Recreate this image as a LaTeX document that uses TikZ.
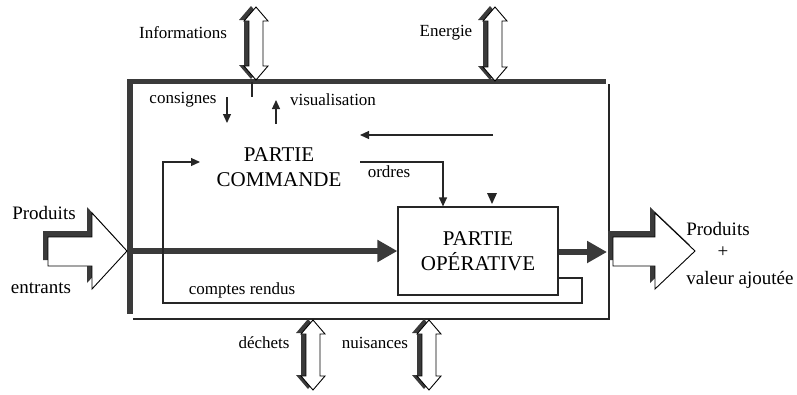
\documentclass[tikz,border=0pt]{standalone}
\usepackage{fontspec}
\setmainfont{Liberation Serif}
\usetikzlibrary{arrows.meta}
\definecolor{framegray}{HTML}{3A3A3A}
\tikzset{
  txt/.style={font=\fontsize{17}{19}\selectfont, inner sep=0pt},
  bigtxt/.style={font=\fontsize{19}{21}\selectfont, inner sep=0pt, align=center},
  parttxt/.style={font=\fontsize{21}{25}\selectfont, inner sep=0pt, align=center},
  wire/.style={line width=1.2pt, draw=black!85},
  signal/.style={wire, -{Triangle[length=9pt,width=8pt]}},
  flow/.style={line width=6pt, draw=framegray, -{Triangle[length=20pt,width=21pt]}},
  arrowshadow/.style={fill=framegray},
  arrowface/.style={fill=white, draw=black, line width=0.9pt},
}
% vertical double block arrow: centre x, top y, bottom y
\newcommand\dblarrow[3]{%
  \foreach \sx/\sy/\sty in {-5/-1/arrowshadow, 0/0/arrowface}{
    \path[\sty, shift={(\sx,\sy)}] (#1,#2) -- (#1+12,#2+14) -- (#1+7,#2+14)
      -- (#1+7,#3-14) -- (#1+12,#3-14) -- (#1,#3) -- (#1-12,#3-14)
      -- (#1-7,#3-14) -- (#1-7,#2+14) -- (#1-12,#2+14) -- cycle;
  }%
}
% horizontal block arrow on the product line: shaft start, head base, tip
\newcommand\blockarrow[3]{%
  \foreach \sx/\sy/\sty in {-5/-6/arrowshadow, 0/0/arrowface}{
    \path[\sty, shift={(\sx,\sy)}] (#1,237) -- (#2,237) -- (#2,213)
      -- (#3,251) -- (#2,289) -- (#2,266) -- (#1,266) -- cycle;
  }%
}
\begin{document}
\begin{tikzpicture}[x=1pt,y=-1pt]
\useasboundingbox (0,0) rectangle (797,394);

% system frame with its heavy top and left edges
\fill[framegray] (127,79) rectangle (606,84);
\fill[framegray] (127,79) rectangle (133,314);
\draw[wire] (609,84) -- (609,319) -- (133,319);

% exchanges with the environment
\dblarrow{256}{7}{80}
\dblarrow{495}{7}{81}
\dblarrow{313}{320}{390}
\dblarrow{429}{320}{390}
\draw[wire] (252,82) -- (252,97);
\node[txt] (info) at (183,33) {Informations};
\node[txt] (energie) at (446,33) {Energie};
\node[txt] (dechets) at (264,343) {déchets};
\node[txt] (nuisances) at (375,343) {nuisances};

% incoming and outgoing products
\blockarrow{48}{92}{127}
\blockarrow{613}{655}{695}
\node[bigtxt] (prodin) at (44,213) {Produits};
\node[bigtxt] (entrants) at (41,288) {entrants};
\node[bigtxt] (prodout) at (718,229) {Produits};
\node[bigtxt] (plus) at (723,252) {+};
\node[bigtxt] (valeur) at (740,280) {valeur ajoutée};

% the two parts of the system
\node[parttxt] (PC) at (279,167) {PARTIE\\COMMANDE};
\node[draw=black!85, line width=1.2pt, minimum width=160pt, minimum height=88pt,
      parttxt] (PO) at (478,251) {PARTIE\\OPÉRATIVE};

% product flow through the operative part
\coordinate (flowin) at (133,251);
\coordinate (flowout) at (607,252);
\draw[flow] (flowin) -- (PO.west);
\draw[flow] (PO.east |- flowout) -- (flowout);

% operator dialogue
\coordinate (consA) at (227,97);
\coordinate (consB) at (227,123);
\coordinate (visA) at (276,124);
\coordinate (visB) at (276,100);
\draw[signal] (consA) -- (consB);
\draw[signal] (visA) -- (visB);
\node[txt] (consignes) at (183,100) {consignes};
\node[txt] (visu) at (333,100) {visualisation};

% incoming command from outside
\coordinate (ext) at (493,135);
\coordinate (extend) at (360,135);
\draw[signal] (ext) -- (extend);

% orders
\coordinate (ordA) at (360,162);
\coordinate (ordB) at (443,162);
\draw[signal] (ordA) -- (ordB) -- (ordB |- PO.north);
\node[txt] (ordres) at (389,172) {ordres};
\fill[black!85] (487,193) -- (497,193) -- (492,204) -- cycle;

% feedback reports
\coordinate (crA) at (558,278);
\coordinate (crB) at (582,278);
\coordinate (crC) at (582,303);
\coordinate (crD) at (163,303);
\coordinate (crE) at (163,162);
\coordinate (crF) at (200,162);
\draw[signal] (crA) -- (crB) -- (crC) -- (crD) -- (crE) -- (crF);
\node[txt] (cr) at (242,290) {comptes rendus};
\end{tikzpicture}
\end{document}
